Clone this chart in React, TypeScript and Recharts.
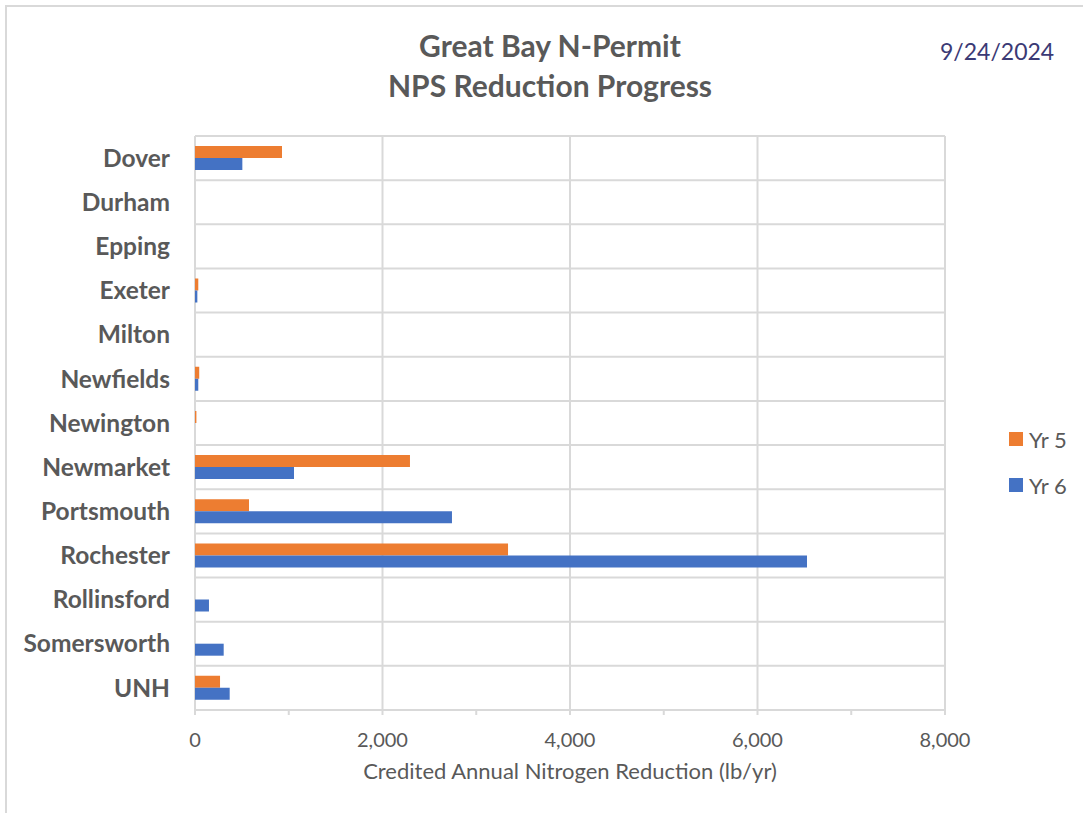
import React from 'react';
import { BarChart, Bar, XAxis, YAxis, CartesianGrid } from 'recharts';

const towns = [
  'Dover', 'Durham', 'Epping', 'Exeter', 'Milton', 'Newfields', 'Newington',
  'Newmarket', 'Portsmouth', 'Rochester', 'Rollinsford', 'Somersworth', 'UNH',
];
const yr5 = [928, 0, 0, 35, 0, 45, 15, 2293, 576, 3339, 0, 0, 267];
const yr6 = [505, 0, 0, 25, 0, 35, 0, 1056, 2741, 6528, 149, 306, 370];
const xTicks = [0, 1000, 2000, 3000, 4000, 5000, 6000, 7000, 8000];
const seriesInfo = [
  { key: 'yr5', name: 'Yr 5', color: '#ED7D31' },
  { key: 'yr6', name: 'Yr 6', color: '#4472C4' },
];

const data = towns.map((town, i) => ({ town, yr5: yr5[i], yr6: yr6[i] }));

const FONT = 'Lato, "Open Sans", sans-serif';
const GRAY = '#595959';

export default function App() {
  return (
    <div style={{ position: 'absolute', left: 0, top: 0, width: 1083, height: 813, background: '#fff', overflow: 'hidden' }}>
      <div style={{ position: 'absolute', left: 5, top: 5, width: 1100, height: 820, borderTop: '2px solid #d9d9d9', borderLeft: '2px solid #d9d9d9' }} />
      <div style={{ position: 'absolute', left: 250, width: 600, top: 25, textAlign: 'center', fontFamily: FONT, fontWeight: 700, fontSize: 30, color: GRAY, lineHeight: '40px' }}>
        <div>Great Bay N-Permit</div>
        <div>NPS Reduction Progress</div>
      </div>
      <div style={{ position: 'absolute', left: 940, top: 37, fontFamily: FONT, fontSize: 23, color: '#3b3a75', lineHeight: 'normal' }}>9/24/2024</div>
      {seriesInfo.map((s, i) => (
        <div key={s.key} style={{ position: 'absolute', left: 1009, top: 425 + i * 46, height: 28, display: 'flex', alignItems: 'center', fontFamily: FONT, fontSize: 22, color: GRAY }}>
          <span style={{ width: 14, height: 14, background: s.color, display: 'inline-block', marginRight: 6 }} />
          {s.name}
        </div>
      ))}
      <BarChart
        width={1083}
        height={813}
        layout="vertical"
        data={data}
        margin={{ top: 136, right: 138, bottom: 30, left: 10 }}
        barSize={12}
        barGap={0}
        style={{ position: 'absolute', left: 0, top: 0 }}
      >
        <CartesianGrid
          stroke="#d9d9d9"
          strokeWidth={2}
          verticalCoordinatesGenerator={({ offset }: any) =>
            [0, 1, 2, 3, 4].map((i) => offset.left + (i * offset.width) / 4)
          }
          horizontalCoordinatesGenerator={({ offset }: any) =>
            towns.map((_, i) => offset.top + (i * offset.height) / towns.length).concat(offset.top + offset.height)
          }
        />
        <XAxis
          type="number"
          domain={[0, 8000]}
          ticks={xTicks}
          interval={0}
          height={73}
          tickFormatter={(v: number) => (v % 2000 === 0 ? v.toLocaleString('en-US') : '')}
          axisLine={{ stroke: '#d9d9d9', strokeWidth: 2 }}
          tickLine={{ stroke: '#d9d9d9', strokeWidth: 2 }}
          tickSize={5}
          tickMargin={18}
          tick={{ fill: GRAY, fontSize: 20, fontFamily: FONT }}
          label={{ value: 'Credited Annual Nitrogen Reduction (lb/yr)', position: 'insideTop', offset: 53, fill: GRAY, fontSize: 22, fontFamily: FONT }}
        />
        <YAxis
          type="category"
          dataKey="town"
          width={185}
          axisLine={false}
          tickLine={false}
          tickSize={0}
          tickMargin={25}
          interval={0}
          tick={{ fill: GRAY, fontSize: 24.5, fontWeight: 700, fontFamily: FONT }}
        />
        {seriesInfo.map((s) => (
          <Bar key={s.key} dataKey={s.key} name={s.name} fill={s.color} isAnimationActive={false} />
        ))}
      </BarChart>
    </div>
  );
}
